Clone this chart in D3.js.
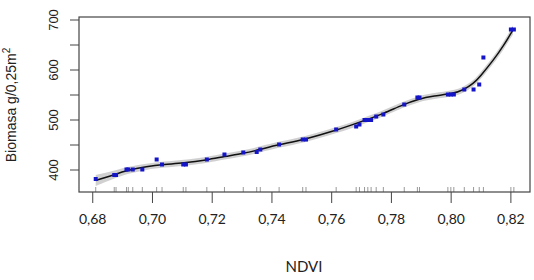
<!DOCTYPE html>
<html>
<head>
  <script src="https://cdn.jsdelivr.net/npm/d3@7"></script>
  <style>
    body { margin: 0; background: #fff; }
    .ytick { font-family: "Liberation Sans", Arial, sans-serif; font-size: 13px; fill: #222; }
    .xtick { font-family: Lato, "Open Sans", sans-serif; font-size: 14px; fill: #222; }
  </style>
</head>
<body>
<svg id="chart" width="534" height="280"></svg>
<script>
  // observed points (NDVI, biomass)
  var ndvi = [0.681, 0.6872, 0.6878, 0.6913, 0.6919, 0.6934, 0.6966, 0.7014, 0.7032, 0.7103,
    0.7112, 0.7182, 0.7241, 0.7304, 0.7349, 0.7361, 0.7424, 0.7503, 0.7514, 0.7615,
    0.7682, 0.7693, 0.7710, 0.7721, 0.7732, 0.7749, 0.7773, 0.7843, 0.7887, 0.7894,
    0.7989, 0.7999, 0.8009, 0.8044, 0.8075, 0.8094, 0.8108, 0.8200, 0.8210];
  var biomasa = [382, 390, 390, 401, 401, 401, 401, 421, 411, 411,
    411, 421, 431, 435, 436, 441, 451, 461, 461, 481,
    487, 491, 500, 500, 500, 507, 511, 531, 545, 545,
    551, 551, 551, 561, 561, 571, 625, 681, 681];

  // fitted smooth and its band half-width
  var fitX = [0.681, 0.6869, 0.6913, 0.6981, 0.7039, 0.7103, 0.7182, 0.7241, 0.7304, 0.7360,
    0.7424, 0.7503, 0.7615, 0.7715, 0.7773, 0.7840, 0.789, 0.7941, 0.8008, 0.8041,
    0.8075, 0.8097, 0.8142, 0.8175, 0.8207];
  var fitY = [379, 390, 399, 407, 411, 414, 420, 427, 433, 441,
    451, 460, 479, 500, 513, 531, 542, 548, 553, 560,
    573, 587, 620, 648, 680];
  var bandHalf = [11, 8, 7, 6, 6, 6, 6, 6, 6, 6,
    6, 6, 6, 6, 6, 6, 6, 6, 6, 6,
    6, 7, 7, 8, 9];

  var yTicks = [400, 450, 500, 550, 600, 650, 700];
  var yLabels = [400, 500, 600, 700];
  var xTicks = [0.68, 0.70, 0.72, 0.74, 0.76, 0.78, 0.80, 0.82];

  var svg = d3.select('#chart');
  var padL = 79, padR = 530, padT = 17, padB = 192;

  var x = d3.scaleLinear().domain([0.6754, 0.8264]).range([padL, padR]);
  var y = d3.scaleLinear().domain([356, 706]).range([padB, padT]);

  var comma = function (d) { return d3.format('.2f')(d).replace('.', ','); };

  // confidence band
  var band = d3.area()
    .x(function (d, i) { return x(fitX[i]); })
    .y0(function (d, i) { return y(fitY[i] - bandHalf[i]); })
    .y1(function (d, i) { return y(fitY[i] + bandHalf[i]); })
    .curve(d3.curveBasis);
  svg.append('path')
    .datum(fitX)
    .attr('d', band)
    .attr('fill', '#c4c4c4')
    .attr('opacity', 0.8);

  // rug
  svg.append('g')
    .selectAll('line')
    .data(ndvi)
    .enter()
    .append('line')
    .attr('x1', function (d) { return x(d); })
    .attr('x2', function (d) { return x(d); })
    .attr('y1', padB - 5)
    .attr('y2', padB)
    .attr('stroke', '#999')
    .attr('stroke-width', 1);

  // smooth line
  var line = d3.line()
    .x(function (d, i) { return x(fitX[i]); })
    .y(function (d, i) { return y(fitY[i]); })
    .curve(d3.curveBasis);
  svg.append('path')
    .datum(fitX)
    .attr('d', line)
    .attr('fill', 'none')
    .attr('stroke', '#111')
    .attr('stroke-width', 1.5);

  // points
  svg.append('g')
    .selectAll('rect')
    .data(ndvi)
    .enter()
    .append('rect')
    .attr('x', function (d) { return x(d) - 2; })
    .attr('y', function (d, i) { return y(biomasa[i]) - 2; })
    .attr('width', 4)
    .attr('height', 4)
    .attr('fill', '#1414c8');

  // box
  svg.append('rect')
    .attr('x', padL)
    .attr('y', padT)
    .attr('width', padR - padL)
    .attr('height', padB - padT)
    .attr('fill', 'none')
    .attr('stroke', '#444')
    .attr('stroke-width', 1.2);

  // y axis
  var yAxis = svg.append('g');
  yAxis.selectAll('line')
    .data(yTicks)
    .enter()
    .append('line')
    .attr('x1', padL - 9)
    .attr('x2', padL)
    .attr('y1', function (d) { return y(d); })
    .attr('y2', function (d) { return y(d); })
    .attr('stroke', '#444');
  yAxis.selectAll('text')
    .data(yLabels)
    .enter()
    .append('text')
    .attr('class', 'ytick')
    .attr('text-anchor', 'middle')
    .attr('transform', function (d) { return 'translate(58,' + y(d) + ') rotate(-90)'; })
    .text(function (d) { return d; });

  // x axis
  var xAxis = svg.append('g');
  xAxis.selectAll('line')
    .data(xTicks)
    .enter()
    .append('line')
    .attr('x1', function (d) { return x(d); })
    .attr('x2', function (d) { return x(d); })
    .attr('y1', padB)
    .attr('y2', padB + 11)
    .attr('stroke', '#444');
  xAxis.selectAll('text')
    .data(xTicks)
    .enter()
    .append('text')
    .attr('class', 'xtick')
    .attr('text-anchor', 'middle')
    .attr('x', function (d) { return x(d); })
    .attr('y', 224)
    .text(comma);

  // titles
  svg.append('text')
    .attr('x', 304)
    .attr('y', 272)
    .attr('text-anchor', 'middle')
    .style('font-family', 'Lato, "Open Sans", sans-serif')
    .style('font-size', '15px')
    .attr('fill', '#222')
    .text('NDVI');

  var yt = svg.append('text')
    .attr('text-anchor', 'middle')
    .attr('transform', 'translate(16,105) rotate(-90)')
    .style('font-family', '"Liberation Sans", Arial, sans-serif')
    .style('font-size', '14px')
    .attr('fill', '#222');
  yt.append('tspan').text('Biomasa g/0,25m');
  yt.append('tspan').attr('dy', -6).style('font-size', '10px').text('2');
</script>
</body>
</html>
